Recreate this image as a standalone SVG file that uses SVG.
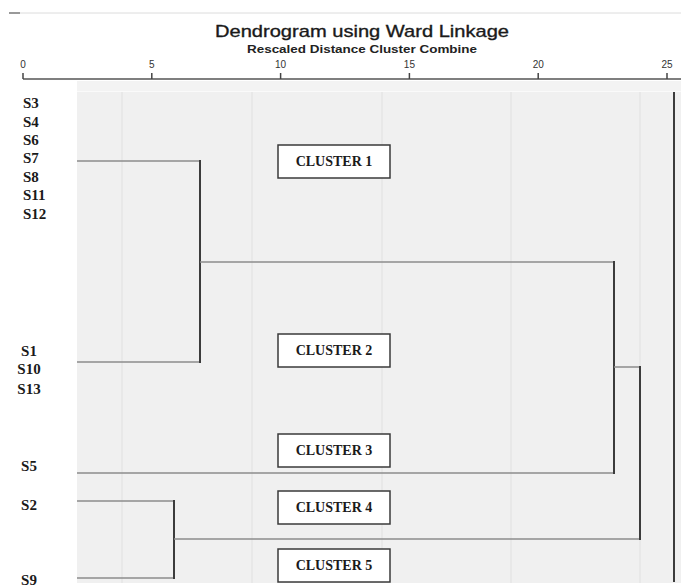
<svg xmlns="http://www.w3.org/2000/svg" width="681" height="587" viewBox="0 0 681 587">
  <style>
    .title { font-family: "Liberation Sans", Arial, sans-serif; font-size: 17px; fill: #1a1a1a; stroke: #1a1a1a; stroke-width: 0.35; }
    .sub { font-family: "Liberation Sans", Arial, sans-serif; font-size: 11px; font-weight: bold; fill: #222; }
    .tick { font-family: "Liberation Sans", Arial, sans-serif; font-size: 10px; fill: #333; text-anchor: middle; }
    .lab { font-family: "Liberation Serif", "Times New Roman", serif; font-size: 15px; font-weight: bold; fill: #1a1a1a; }
    .labc { font-family: "Liberation Serif", "Times New Roman", serif; font-size: 15px; font-weight: bold; fill: #1a1a1a; text-anchor: middle; }
    .box { fill: #ffffff; stroke: #3a3a3a; stroke-width: 1.5; }
    .btxt { font-family: "Liberation Serif", "Times New Roman", serif; font-size: 14px; font-weight: bold; fill: #1a1a1a; text-anchor: middle; }
    .grid { stroke: #e0e0e0; stroke-width: 1; }
    .h { stroke: #8c8c8c; stroke-width: 1.5; fill: none; }
    .v { stroke: #3c3c3c; stroke-width: 2; fill: none; }
  </style>

  <rect x="0" y="0" width="681" height="587" fill="#ffffff"/>
  <line x1="20" y1="13" x2="681" y2="13" stroke="#dcdcdc" stroke-width="1"/>
  <line x1="9" y1="13" x2="20" y2="13" stroke="#555" stroke-width="1.2"/>

  <!-- titles -->
  <text class="title" x="215" y="37" textLength="294" lengthAdjust="spacingAndGlyphs">Dendrogram using Ward Linkage</text>
  <text class="sub" x="247" y="53" textLength="230" lengthAdjust="spacingAndGlyphs">Rescaled Distance Cluster Combine</text>

  <!-- plot background -->
  <rect x="77" y="81" width="604" height="502" fill="#f0f0f0"/>
  <rect x="77" y="81" width="604" height="10" fill="#f3f3f3"/>
  <line x1="77" y1="91.5" x2="681" y2="91.5" stroke="#fafafa" stroke-width="1"/>
  <g id="gridlines">
    <line class="grid" x1="122" y1="92" x2="122" y2="583"/>
    <line class="grid" x1="252" y1="92" x2="252" y2="583"/>
    <line class="grid" x1="382" y1="92" x2="382" y2="583"/>
    <line class="grid" x1="511" y1="92" x2="511" y2="583"/>
    <line class="grid" x1="640" y1="92" x2="640" y2="583"/>
  </g>

  <!-- axis -->
  <g id="axis">
    <line x1="23" y1="79" x2="681" y2="79" stroke="#555" stroke-width="1.5"/>
    <g stroke="#444" stroke-width="1.5">
      <line x1="23" y1="73" x2="23" y2="79"/>
      <line x1="151.8" y1="73" x2="151.8" y2="79"/>
      <line x1="280.6" y1="73" x2="280.6" y2="79"/>
      <line x1="409.4" y1="73" x2="409.4" y2="79"/>
      <line x1="538.2" y1="73" x2="538.2" y2="79"/>
      <line x1="667" y1="73" x2="667" y2="79"/>
    </g>
    <text class="tick" x="23" y="68">0</text>
    <text class="tick" x="151.8" y="68">5</text>
    <text class="tick" x="280.6" y="68">10</text>
    <text class="tick" x="409.4" y="68">15</text>
    <text class="tick" x="538.2" y="68">20</text>
    <text class="tick" x="667" y="68">25</text>
  </g>

  <!-- leaf labels -->
  <g id="labels">
    <text class="lab" x="23" y="108">S3</text>
    <text class="lab" x="23" y="127">S4</text>
    <text class="lab" x="23" y="145">S6</text>
    <text class="lab" x="23" y="163">S7</text>
    <text class="lab" x="23" y="182">S8</text>
    <text class="lab" x="23" y="200">S11</text>
    <text class="lab" x="23" y="219">S12</text>
    <text class="labc" x="29" y="356">S1</text>
    <text class="labc" x="29" y="374">S10</text>
    <text class="labc" x="29" y="394">S13</text>
    <text class="labc" x="29" y="471">S5</text>
    <text class="labc" x="29" y="510">S2</text>
    <text class="labc" x="29" y="585">S9</text>
  </g>

  <!-- connectors -->
  <g id="connectors">
    <line class="h" x1="77" y1="161" x2="200" y2="161"/>
    <line class="h" x1="77" y1="362" x2="200" y2="362"/>
    <line class="v" x1="200" y1="160" x2="200" y2="363"/>
    <line class="h" x1="200" y1="262" x2="614" y2="262"/>
    <line class="h" x1="77" y1="473" x2="614" y2="473"/>
    <line class="v" x1="614" y1="261" x2="614" y2="474"/>
    <line class="h" x1="614" y1="367" x2="640" y2="367"/>
    <line class="h" x1="77" y1="501" x2="174" y2="501"/>
    <line class="h" x1="77" y1="578" x2="174" y2="578"/>
    <line class="v" x1="174" y1="500" x2="174" y2="579"/>
    <line class="h" x1="174" y1="539" x2="640" y2="539"/>
    <line class="v" x1="640" y1="366" x2="640" y2="540"/>
    <line class="v" x1="674" y1="92" x2="674" y2="582"/>
  </g>

  <!-- cluster boxes -->
  <g id="cluster1">
    <rect class="box" x="278" y="145" width="112" height="33"/>
    <text class="btxt" x="334" y="166">CLUSTER 1</text>
  </g>
  <g id="cluster2">
    <rect class="box" x="278" y="334" width="112" height="33"/>
    <text class="btxt" x="334" y="355">CLUSTER 2</text>
  </g>
  <g id="cluster3">
    <rect class="box" x="278" y="434" width="112" height="33"/>
    <text class="btxt" x="334" y="455">CLUSTER 3</text>
  </g>
  <g id="cluster4">
    <rect class="box" x="278" y="491" width="112" height="33"/>
    <text class="btxt" x="334" y="512">CLUSTER 4</text>
  </g>
  <g id="cluster5">
    <rect class="box" x="278" y="549" width="112" height="33"/>
    <text class="btxt" x="334" y="570">CLUSTER 5</text>
  </g>
</svg>
